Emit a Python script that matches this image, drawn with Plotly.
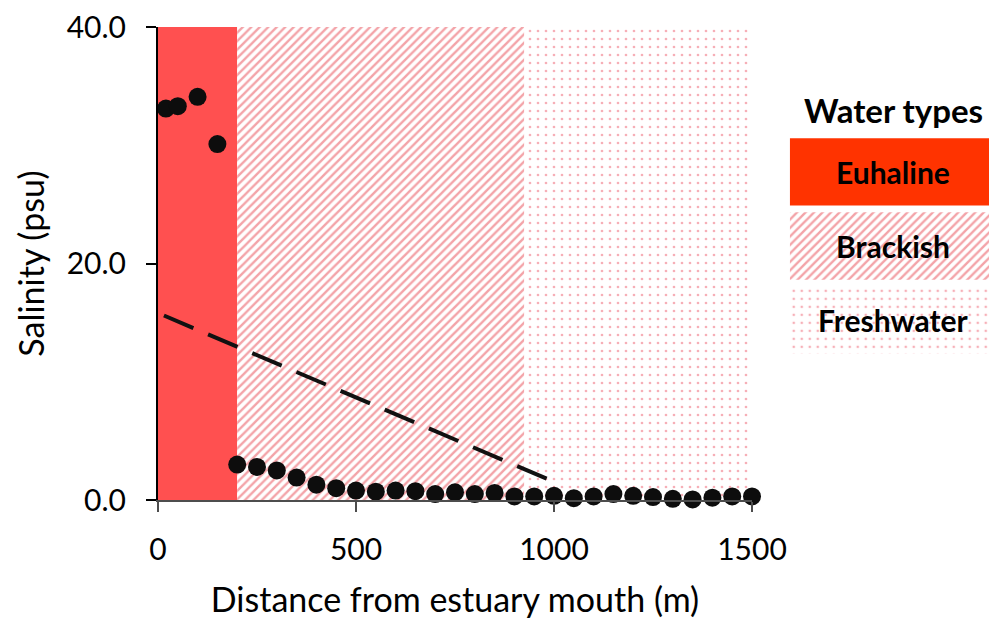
import plotly.graph_objects as go

# ---- data ----
distance_m = [20, 50, 100, 150, 200, 250, 300, 350, 400, 450, 500, 550, 600, 650, 700, 750,
              800, 850, 900, 950, 1000, 1050, 1100, 1150, 1200, 1250, 1300, 1350, 1400, 1450, 1500]
salinity_psu = [33.1, 33.3, 34.1, 30.1, 3.0, 2.8, 2.5, 1.9, 1.3, 1.0, 0.8, 0.7, 0.8, 0.75, 0.5, 0.65,
                0.5, 0.6, 0.3, 0.3, 0.35, 0.15, 0.3, 0.5, 0.35, 0.25, 0.1, 0.05, 0.2, 0.3, 0.3]
trend_x = [15, 1017]
trend_y = [15.6, 1.3]

zone_names = ["Euhaline", "Brackish", "Freshwater"]
zone_start = [0, 200, 925]
zone_end = [200, 925, 1500]
zone_top = 40

x_ticks = [0, 500, 1000, 1500]
y_ticks = [0, 20, 40]
y_tick_labels = ["0.0", "20.0", "40.0"]

FONT = "Lato, 'Open Sans', sans-serif"
EU_COL = "#FF5050"
EU_LEG = "#FF3300"
HATCH = "#E84852"

zone_styles = [
    dict(color=EU_COL, pattern=dict(shape="")),
    dict(color="white", pattern=dict(shape="/", fgcolor=HATCH, size=6, solidity=0.4, fillmode="overlay")),
    dict(color="white", pattern=dict(shape=".", fgcolor="#EE6070", size=8, solidity=0.09, fillmode="overlay")),
]
legend_styles = [
    dict(color=EU_LEG, pattern=dict(shape="")),
    zone_styles[1],
    zone_styles[2],
]

fig = go.Figure()

# zone backgrounds
for name, s, e, st in zip(zone_names, zone_start, zone_end, zone_styles):
    fig.add_trace(go.Bar(
        x=[(s + e) / 2], y=[zone_top], width=[e - s], base=0,
        marker=dict(line=dict(width=0), **st),
        showlegend=False, hoverinfo="skip", xaxis="x", yaxis="y"))

# trend line
fig.add_trace(go.Scatter(x=trend_x, y=trend_y, mode="lines",
                         line=dict(color="#111111", width=4, dash="32px,16px"),
                         showlegend=False, xaxis="x", yaxis="y"))

# data points
fig.add_trace(go.Scatter(x=distance_m, y=salinity_psu, mode="markers",
                         marker=dict(color="#0d0d0d", size=18),
                         cliponaxis=False, showlegend=False, xaxis="x", yaxis="y"))

# custom legend boxes
for i, (name, st) in enumerate(zip(zone_names, legend_styles)):
    fig.add_trace(go.Bar(
        x=[1], y=[name], orientation="h", base=0,
        marker=dict(line=dict(width=0), **st),
        showlegend=False, hoverinfo="skip", xaxis="x2", yaxis="y2"))
    fig.add_annotation(x=0.5, y=name, xref="x2", yref="y2", text=f"<b>{name}</b>",
                       showarrow=False, font=dict(family=FONT, size=30, color="black"))

fig.add_annotation(x=0.5, y=0.824, xref="x2", yref="paper", yanchor="middle",
                   text="<b>Water types</b>", showarrow=False,
                   font=dict(family=FONT, size=33, color="black"))

fig.update_layout(
    width=989, height=611,
    margin=dict(l=150, r=0, t=19, b=119, autoexpand=False),
    paper_bgcolor="white", plot_bgcolor="white",
    barmode="overlay", bargap=0.09,
    font=dict(family=FONT, color="black"),
    xaxis=dict(domain=[0, 0.708], range=[0, 1500], tickvals=x_ticks, automargin=False,
               showgrid=False, zeroline=False, showline=True, linecolor="#4d4d4d", linewidth=2,
               ticks="outside", ticklen=10, tickwidth=2, tickcolor="#4d4d4d",
               tickfont=dict(size=30, family=FONT), ticklabelstandoff=12,
               ticklabeloverflow="allow",
               title=dict(text="Distance from estuary mouth (m)", font=dict(size=34, family=FONT), standoff=24)),
    yaxis=dict(range=[0, 40], tickvals=y_ticks, ticktext=y_tick_labels, automargin=False,
               showgrid=False, zeroline=False, showline=True, linecolor="black", linewidth=2,
               ticks="outside", ticklen=10, tickwidth=2, tickcolor="black",
               tickfont=dict(size=30, family=FONT), ticklabelstandoff=14,
               ticklabeloverflow="allow",
               title=dict(text="Salinity (psu)", font=dict(size=34, family=FONT), standoff=12)),
    xaxis2=dict(domain=[0.753, 1.0], range=[0, 1], visible=False, anchor="y2"),
    yaxis2=dict(domain=[0.302, 0.772], range=[2.5, -0.5], visible=False, anchor="x2",
                categoryorder="array", categoryarray=zone_names),
)

fig.write_html("out.html")
